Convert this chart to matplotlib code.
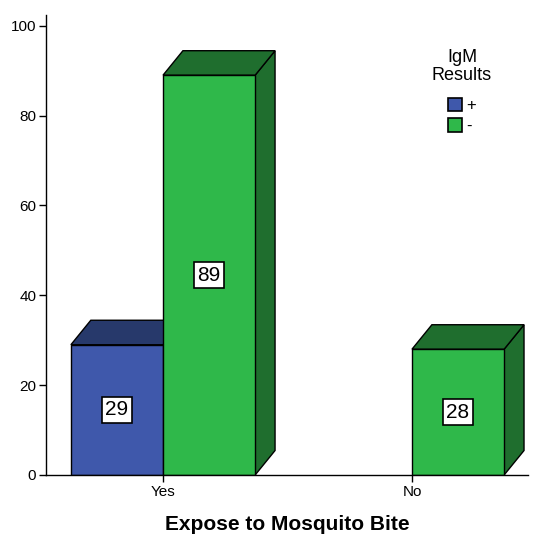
import matplotlib.pyplot as plt
from matplotlib.patches import Polygon, Rectangle

plt.rcParams['font.family'] = ['Liberation Sans', 'DejaVu Sans']

categories = ["Yes", "No"]
series_names = ["+", "-"]
positive = [29, 0]
negative = [89, 28]

FRONT = {"+": "#3f58ab", "-": "#2fb84a"}
DARK = {"+": "#27396b", "-": "#1f6e2e"}

W = 0.37      # bar width (data units)
DX = 0.08     # 3d depth in x
DY = 5.45     # 3d depth in y


def draw_bar(ax, x0, h, name):
    x1 = x0 + W
    kw = dict(edgecolor="black", linewidth=1.0, joinstyle="miter")
    ax.add_patch(Polygon([(x1, 0), (x1 + DX, DY), (x1 + DX, h + DY), (x1, h)],
                         facecolor=DARK[name], **kw))
    ax.add_patch(Polygon([(x0, h), (x0 + DX, h + DY), (x1 + DX, h + DY), (x1, h)],
                         facecolor=DARK[name], **kw))
    ax.add_patch(Rectangle((x0, 0), W, h, facecolor=FRONT[name], **kw))
    ax.text(x0 + W / 2, h / 2, str(h), ha="center", va="center", fontsize=15,
            bbox=dict(boxstyle="square,pad=0.18", facecolor="white",
                      edgecolor="black", linewidth=1.2))


fig = plt.figure(figsize=(5.47, 5.50), dpi=100, facecolor="w")
ax = fig.add_axes([46 / 547, 75 / 550, (528 - 46) / 547, (475 - 15) / 550])

for i, cat in enumerate(categories):
    for name, vals, off in (("+", positive, -W), ("-", negative, 0.0)):
        if vals[i] > 0:
            draw_bar(ax, i + off, vals[i], name)

ax.set_xlim(-0.47, 1.466)
ax.set_ylim(0, 102.4)
ax.set_xticks(range(len(categories)))
ax.set_xticklabels(categories, fontsize=11)
ax.set_yticks([0, 20, 40, 60, 80, 100])
ax.tick_params(axis="both", direction="out", length=5, width=1, labelsize=11, pad=2)
for s in ("top", "right"):
    ax.spines[s].set_visible(False)
ax.spines["left"].set_linewidth(1)
ax.spines["bottom"].set_linewidth(1)
ax.set_xlabel("Expose to Mosquito Bite", fontsize=15, fontweight="bold", labelpad=12)

handles = [Rectangle((0, 0), 1, 1, facecolor=FRONT[n], edgecolor="black", linewidth=1.2)
           for n in series_names]
leg = ax.legend(handles, series_names, title="IgM\nResults", loc="upper center",
                bbox_to_anchor=(0.863, 0.952), frameon=False, fontsize=12,
                title_fontsize=13, handlelength=0.85, handleheight=0.85,
                handletextpad=0.3, labelspacing=0.3, borderpad=0.2)
leg._legend_box.align = "center"
leg._legend_box.sep = 10
leg.get_title().set_multialignment("center")
leg.get_title().set_linespacing(1.1)

fig.savefig("out.png", dpi=100)
